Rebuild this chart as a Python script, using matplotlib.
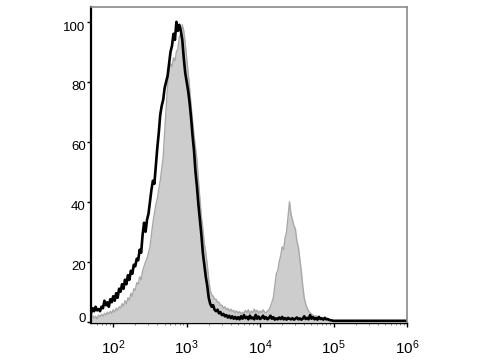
import numpy as np
import matplotlib
matplotlib.use("Agg")
import matplotlib.pyplot as plt
from matplotlib.ticker import LogLocator, FixedLocator, NullFormatter
from matplotlib.transforms import ScaledTranslation

plt.rcParams.update({"font.family": ["Liberation Sans", "DejaVu Sans"],
                     "mathtext.default": "regular", "font.size": 9})

# log10 of fluorescence intensity, bin centres (0.02 decade steps), last point = axis end
log_x = np.append(np.round(np.arange(1.70, 5.001, 0.02), 2), 6.0)

# isotype / control (black outline)
control = [3.0, 4.5, 3.5, 5.0, 3.8, 4.2, 3.5, 5.0, 4.5, 7.0,
           5.5, 6.5, 5.0, 7.5, 6.5, 8.5, 7.0, 9.5, 8.0, 11.0,
           10.0, 12.5, 11.0, 14.0, 12.5, 15.5, 14.0, 17.0, 16.0, 19.0,
           18.5, 21.0, 20.5, 24.0, 23.0, 29.0, 33.0, 30.0, 34.0, 36.0,
           40.0, 44.0, 47.0, 46.0, 52.0, 58.0, 63.0, 69.0, 72.0, 74.0,
           78.0, 80.0, 82.0, 86.0, 90.0, 92.0, 96.0, 94.0, 100.0, 97.0,
           99.0, 97.0, 94.0, 88.0, 83.0, 80.0, 77.0, 73.0, 68.0, 62.0,
           57.0, 50.0, 45.0, 39.0, 34.0, 29.0, 23.0, 19.0, 15.0, 12.0,
           8.0, 6.0, 5.0, 5.5, 4.0, 3.5, 4.0, 2.8, 3.2, 2.2,
           2.6, 1.8, 2.2, 1.4, 2.0, 1.2, 1.8, 1.0, 1.6, 0.9,
           1.5, 0.8, 1.8, 1.0, 2.2, 1.2, 1.6, 0.8, 2.0, 1.1,
           1.4, 0.8, 2.3, 1.0, 1.7, 0.9, 1.3, 2.0, 1.0, 1.5,
           0.8, 1.2, 2.0, 1.0, 1.5, 0.7, 1.1, 0.8, 1.4, 0.9,
           1.6, 0.8, 1.2, 0.7, 1.3, 1.0, 0.8, 1.2, 0.7, 1.0,
           1.4, 0.8, 1.1, 0.7, 1.0, 1.8, 0.9, 1.3, 0.8, 2.2,
           1.0, 1.5, 0.8, 1.2, 0.7, 1.6, 0.9, 1.1, 0.7, 1.3,
           0.8, 0.9, 0.6, 0.5, 0.4, 0.3,
           0.3]

# stained sample (grey filled)
stained = [1.0, 2.0, 1.2, 1.8, 1.0, 2.2, 1.6, 2.5, 1.8, 2.8,
           2.2, 3.2, 2.5, 3.5, 2.8, 4.0, 3.2, 4.5, 3.8, 5.0,
           4.5, 6.0, 5.2, 7.0, 6.0, 8.0, 7.2, 9.5, 8.5, 11.0,
           10.5, 13.0, 12.5, 15.0, 14.0, 17.0, 18.5, 20.0, 21.0, 23.0,
           25.0, 29.0, 33.0, 36.0, 39.0, 41.0, 44.0, 47.0, 51.0, 55.0,
           63.0, 71.0, 79.0, 84.0, 86.0, 85.0, 88.0, 87.0, 90.0, 91.0,
           95.0, 96.0, 99.0, 97.0, 93.0, 88.0, 83.0, 78.0, 72.0, 67.0,
           62.0, 58.0, 54.0, 47.0, 41.0, 35.0, 31.0, 26.0, 23.0, 19.0,
           14.0, 10.5, 9.0, 8.5, 7.5, 7.5, 6.5, 6.5, 5.5, 5.5,
           4.5, 5.0, 4.0, 4.5, 3.5, 4.2, 3.5, 3.8, 3.0, 3.6,
           2.8, 3.4, 2.5, 3.2, 2.8, 3.8, 3.0, 4.0, 2.6, 3.6,
           3.0, 4.2, 3.2, 3.8, 2.8, 3.6, 3.0, 4.0, 3.2, 3.0,
           3.5, 4.0, 5.0, 6.5, 8.0, 12.0, 16.0, 17.0, 20.0, 22.0,
           25.0, 24.0, 28.0, 30.0, 35.0, 40.0, 36.0, 34.0, 32.0, 31.0,
           27.0, 25.0, 21.0, 17.0, 12.0, 8.0, 6.0, 4.5, 3.5, 3.0,
           2.5, 2.2, 1.8, 2.0, 1.5, 1.8, 1.2, 1.5, 1.0, 1.2,
           0.8, 0.6, 0.5, 0.4, 0.3, 0.3,
           0.2]

x = 10 ** log_x
fig = plt.figure(figsize=(4.8, 3.6), dpi=100)
ax = fig.add_axes([0.19, 0.103, 0.658, 0.878])

ax.fill_between(x, stained, 0, color="#cdcdcd", lw=0)
ax.plot(x, stained, color="#a8a8a8", lw=1.0)
ax.plot(x, control, color="black", lw=1.9)

ax.set_xscale("log")
ax.set_xlim(10 ** 1.70, 1e6)
ax.set_ylim(-0.4, 105)
ax.set_yticks([0, 20, 40, 60, 80, 100])
ax.xaxis.set_major_locator(FixedLocator([1e2, 1e3, 1e4, 1e5, 1e6]))
ax.xaxis.set_minor_locator(LogLocator(base=10, subs=np.arange(2, 10)))
ax.xaxis.set_minor_formatter(NullFormatter())

ax.tick_params(axis="y", length=3, width=1, pad=1, labelsize=9.5)
ax.tick_params(axis="x", which="major", length=3, width=1, pad=8, labelsize=11)
ax.tick_params(axis="x", which="minor", length=1.2, width=0.5, color="#555555")

# y labels sit a little below their ticks in the original, the 0 a little above
for val, lab in zip(ax.get_yticks(), ax.get_yticklabels()):
    dy = 3 / 72 if val == 0 else -3 / 72
    lab.set_transform(lab.get_transform() + ScaledTranslation(0, dy, fig.dpi_scale_trans))

ax.spines["left"].set_linewidth(1.6)
ax.spines["bottom"].set_linewidth(1.0)
for s in ("top", "right"):
    ax.spines[s].set_color("#8a8a8a")
    ax.spines[s].set_linewidth(1.2)

fig.savefig("out.png", dpi=100)
